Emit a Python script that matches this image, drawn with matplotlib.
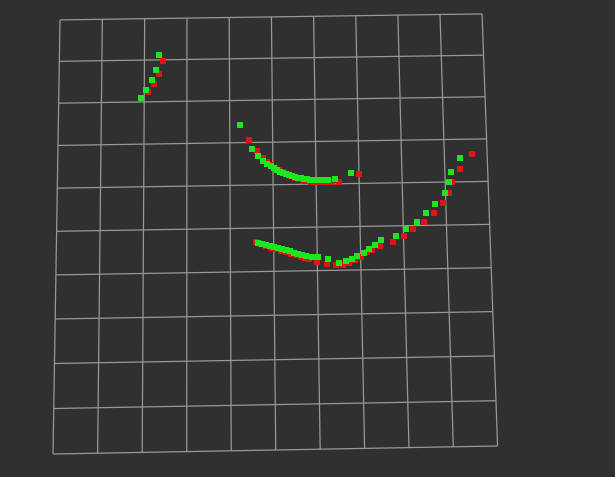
import numpy as np
import matplotlib
matplotlib.use('Agg')
import matplotlib.pyplot as plt

# screen size of the viewer window (pixels)
W, H = 615, 477

# grid: 10 x 10 cells, corners as seen on screen
n_cells = 10
grid_corners_uv = [(0, 0), (10, 0), (0, 10), (10, 10)]
grid_corners_px = [(60, 20), (482, 14), (53, 454), (497.5, 446)]

# scan points, screen coordinates (x right, y down)
green_x = [159, 156, 152, 146.3, 141.3,
           239.7, 252, 258, 262.7, 267.3, 270.5, 273.5, 276.5, 279.5, 282.5, 285.5,
           288.5, 291.5, 294.5, 297.5, 300.5, 303.5, 306.5, 309.5, 312.5, 316, 320,
           324, 328, 335, 350.7,
           258, 262, 266, 270, 274, 278, 282, 286, 290, 294, 298, 302, 306, 311.7,
           317.7, 327.7, 339.3, 346, 351.7, 356.7, 364, 369, 375.3, 381, 395.7, 406.3,
           416.7, 426, 435, 445.3, 449, 451.3, 460]
green_y = [55.3, 69.7, 80.3, 89.7, 98.3,
           125, 149.3, 156, 160.7, 164.3, 166.5, 168.5, 170.2, 171.7, 173, 174.2,
           175.2, 176.2, 177, 177.7, 178.3, 178.8, 179.2, 179.6, 180, 180.2, 180.3,
           180.3, 180.3, 179, 172.7,
           243, 244, 245, 246, 247.1, 248.2, 249.3, 250.4, 251.5, 252.6, 253.7, 254.8,
           256, 256.7, 257.3, 259.3, 263, 261.3, 259, 256, 253.3, 249, 245, 240, 235.7,
           229, 221.7, 213.3, 203.7, 192.7, 182.3, 171.7, 158]

red_x = [162.7, 159, 153.7, 148,
         249.3, 256.7, 262.7, 267.3, 271, 275, 279, 283, 287, 291, 295, 299, 303,
         307, 311, 315, 319, 323, 327, 331, 338.7, 359,
         256, 261, 266, 271, 276, 281, 286, 291, 296, 301, 305, 309.3, 316.7, 326.7,
         335.7, 343.3, 349.3, 355, 361, 367, 372.3, 380.3, 393.3, 404, 413.3, 423.7,
         433.7, 443, 449, 452, 460, 471.7]
red_y = [61, 73.7, 84, 92,
         140, 150.7, 157.7, 161.7, 165, 167.7, 170, 172.5, 174.5, 176.3, 177.8, 179.2,
         180.3, 181.2, 181.8, 182.2, 182.4, 182.5, 182.4, 182.2, 182, 173.7,
         242, 244.3, 246.2, 247.8, 249.3, 250.8, 252.3, 253.8, 255.3, 256.8, 258, 259,
         261.7, 264.3, 265.3, 265, 262.7, 260, 257.3, 252.3, 249.7, 245.7, 241.7,
         236.3, 229.3, 221.7, 212.7, 202.7, 192.7, 182, 169.3, 153.7]


def homography(src, dst):
    A, b = [], []
    for (u, v), (x, y) in zip(src, dst):
        A.append([u, v, 1, 0, 0, 0, -u * x, -v * x]); b.append(x)
        A.append([0, 0, 0, u, v, 1, -u * y, -v * y]); b.append(y)
    h = np.linalg.solve(np.array(A, float), np.array(b, float))
    return np.append(h, 1).reshape(3, 3)


def project(Hm, u, v):
    p = Hm @ np.vstack([u, v, np.ones_like(u)])
    return p[0] / p[2], p[1] / p[2]


Hm = homography(grid_corners_uv, grid_corners_px)

fig = plt.figure(figsize=(W / 100 + 0.001, H / 100 + 0.001), dpi=100)
fig.patch.set_facecolor('#303030')
ax = fig.add_axes([0, 0, 1, 1])
ax.set_facecolor('#303030')
ax.set_xlim(0, W)
ax.set_ylim(H, 0)
ax.axis('off')

t = np.linspace(0, n_cells, 50)
for k in range(n_cells + 1):
    x, y = project(Hm, np.full_like(t, k), t)
    ax.plot(x, y, color='#989898', lw=0.9, solid_capstyle='butt')
    x, y = project(Hm, t, np.full_like(t, k))
    ax.plot(x, y, color='#989898', lw=0.9, solid_capstyle='butt')

ax.plot(red_x, red_y, 's', color='#e01414', ms=3.8, mew=0, ls='none')
ax.plot(green_x, green_y, 's', color='#1ee61e', ms=3.8, mew=0, ls='none')

fig.savefig('out.png', dpi=100, facecolor=fig.get_facecolor())
